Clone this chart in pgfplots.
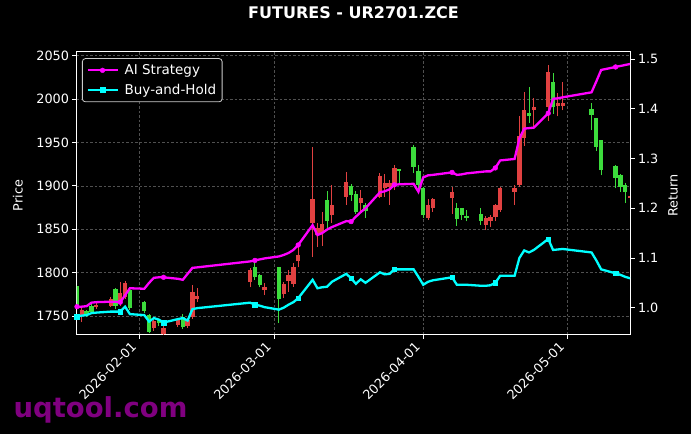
\documentclass[border=0pt]{standalone}
\usepackage{fontspec}
\setmainfont{DejaVu Sans}
\usepackage{pgfplots}
\usepackage{pgfplotstable}
\pgfplotsset{compat=1.18}
\usetikzlibrary{backgrounds}
\definecolor{cgreen}{RGB}{60,220,60}
\definecolor{cred}{RGB}{225,65,65}
\definecolor{wm}{RGB}{128,0,128}
\definecolor{gridc}{RGB}{80,80,80}
\definecolor{cmag}{RGB}{255,0,255}
\definecolor{ccyan}{RGB}{0,255,255}

\pgfplotstableread{
d o h l c
18 1760 1786 1758 1785
20 1751 1757 1749 1756
21 1755 1764 1752 1761
26 1762 1782 1758 1781
29 1759 1781 1757 1780
32 1756 1767 1754 1766
33 1732 1752 1730 1751
35 1742 1747 1739 1745
40 1737 1752 1735 1749
55 1795 1812 1792 1806
56 1786 1799 1783 1797
60 1770 1806 1742 1806
70 1859 1894 1852 1884
75 1889 1902 1883 1900
76 1870 1894 1868 1891
78 1871 1880 1863 1878
85 1917 1920 1903 1919
88 1922 1947 1915 1945
89 1901 1924 1893 1917
90 1866 1899 1863 1897
97 1862 1880 1854 1874
98 1866 1875 1861 1874
99 1863 1872 1859 1865
102 1860 1874 1855 1868
112 1981 2014 1972 1984
117 1991 2030 1983 2020
125 1982 1995 1964 1988
126 1945 1978 1940 1978
127 1918 1953 1912 1953
130 1909 1924 1897 1923
131 1899 1914 1893 1912
132 1893 1903 1880 1901
}\greentab

\pgfplotstableread{
d o h l c
19 1757 1760 1743 1751
22 1763 1765 1758 1760
25 1770 1772 1760 1762
27 1776 1789 1762 1765
28 1788 1790 1770 1772
34 1744 1746 1733 1736
36 1736 1738 1727 1729
39 1746 1748 1737 1740
41 1746 1748 1736 1738
42 1778 1786 1747 1749
43 1773 1782 1766 1770
54 1803 1805 1783 1789
57 1783 1788 1774 1780
61 1787 1789 1771 1775
62 1797 1803 1778 1790
63 1807 1811 1784 1787
64 1820 1830 1806 1813
67 1885 1945 1818 1857
68 1851 1857 1830 1843
69 1856 1870 1831 1846
71 1878 1901 1857 1866
74 1904 1916 1878 1887
77 1886 1895 1870 1880
81 1911 1915 1886 1887
82 1903 1914 1887 1897
83 1903 1907 1878 1899
84 1921 1924 1895 1901
91 1878 1885 1861 1863
92 1885 1886 1870 1874
96 1893 1899 1868 1886
103 1863 1865 1849 1855
104 1864 1867 1853 1859
105 1878 1879 1859 1864
106 1897 1899 1870 1872
109 1897 1901 1878 1893
110 1958 1980 1899 1901
111 1987 2008 1946 1955
113 1991 2001 1965 1987
116 2031 2039 1975 1991
118 1995 2007 1980 1992
119 1995 2020 1987 1992
133 1888 1890 1884 1886
}\redtab

\pgfplotstableread{
d ai bh
18 1.002 0.982
19 1.002 0.984
20 1.003 0.985
21 1.010 0.989
22 1.011 0.990
25 1.012 0.992
26 1.012 0.992
27 1.011 0.992
28 1.025 1.002
29 1.039 0.987
32 1.038 0.985
33 1.050 0.972
34 1.060 0.979
35 1.061 0.976
36 1.061 0.970
39 1.058 0.977
40 1.056 0.979
41 1.068 0.974
42 1.080 0.997
43 1.081 0.999
54 1.093 1.010
55 1.095 1.006
56 1.097 1.004
57 1.099 1.001
60 1.103 0.996
61 1.106 1.000
62 1.110 1.006
63 1.116 1.011
64 1.126 1.019
67 1.166 1.056
68 1.146 1.039
69 1.150 1.041
70 1.157 1.042
71 1.162 1.052
74 1.174 1.068
75 1.173 1.059
76 1.183 1.048
77 1.192 1.057
78 1.200 1.050
81 1.232 1.071
82 1.234 1.067
83 1.238 1.068
84 1.247 1.077
85 1.248 1.077
88 1.249 1.077
89 1.233 1.062
90 1.262 1.046
91 1.266 1.052
92 1.267 1.055
96 1.272 1.061
97 1.267 1.046
98 1.268 1.046
99 1.270 1.046
102 1.273 1.044
103 1.274 1.044
104 1.274 1.045
105 1.281 1.050
106 1.296 1.064
109 1.299 1.064
110 1.340 1.100
111 1.360 1.115
112 1.361 1.111
113 1.362 1.116
116 1.391 1.138
117 1.420 1.116
118 1.421 1.117
119 1.423 1.118
125 1.433 1.111
126 1.455 1.095
127 1.478 1.077
130 1.484 1.069
131 1.486 1.066
132 1.488 1.062
133 1.490 1.059
}\linetab

\begin{document}
\begin{tikzpicture}
\pgfplotsset{
  base/.style={
    scale only axis, width=553bp, height=282.3bp,
    xmin=18, xmax=133,
    axis line style={white, line width=1bp},
    tick style={white, line width=0.8bp},
    major tick length=4.5bp, tick align=outside,
    ticklabel style={text=white, font=\fontsize{12.8bp}{15bp}\selectfont},
    label style={text=white, font=\fontsize{12.8bp}{15bp}\selectfont},
    /pgf/number format/assume math mode=true,
    /pgf/number format/1000 sep={},
  },
}
\begin{axis}[base, name=main,
  ymin=1729.3, ymax=2054.6,
  ytick={1750,1800,1850,1900,1950,2000,2050},
  xtick={31,59,90,120},
  xticklabels={2026-02-01,2026-03-01,2026-04-01,2026-05-01},
  xticklabel style={xshift=-9bp, yshift=2bp, rotate=45, anchor=north east},
  xtick pos=left, ytick pos=left,
  grid=major,
  major grid style={gridc, dash pattern=on 2.5bp off 2bp, line width=0.5bp},
  ylabel={Price},
  ylabel style={at={(axis description cs:-0.107,0.49)}, anchor=center},
  title={FUTURES - UR2701.ZCE},
  title style={at={(axis description cs:0.5,1.098)}, anchor=base, text=white, font=\bfseries\fontsize{16bp}{19bp}\selectfont},
]
% wicks
\addplot[forget plot, draw=none, mark=none, error bars/.cd, y dir=plus, y explicit, error mark=none,
  error bar style={draw=cgreen, line width=1bp}]
  table[x=d, y=l, y error plus expr={\thisrow{h}-\thisrow{l}}] {\greentab};
\addplot[forget plot, draw=none, mark=none, error bars/.cd, y dir=plus, y explicit, error mark=none,
  error bar style={draw=cred, line width=1bp}]
  table[x=d, y=l, y error plus expr={\thisrow{h}-\thisrow{l}}] {\redtab};
% bodies
\addplot[forget plot, draw=none, mark=none, error bars/.cd, y dir=plus, y explicit, error mark=none,
  error bar style={draw=cgreen, line width=4.3bp}]
  table[x=d, y expr={min(\thisrow{o},\thisrow{c})}, y error plus expr={abs(\thisrow{c}-\thisrow{o})}] {\greentab};
\addplot[forget plot, draw=none, mark=none, error bars/.cd, y dir=plus, y explicit, error mark=none,
  error bar style={draw=cred, line width=4.3bp}]
  table[x=d, y expr={min(\thisrow{o},\thisrow{c})}, y error plus expr={abs(\thisrow{c}-\thisrow{o})}] {\redtab};
\end{axis}

\begin{axis}[base,
  ymin=0.947, ymax=1.5147,
  axis y line*=right, axis x line=none,
  ytick={1.0,1.1,1.2,1.3,1.4,1.5},
  yticklabel style={/pgf/number format/.cd, fixed, fixed zerofill, precision=1},
  ylabel={Return},
  ylabel style={at={(axis description cs:1.078,0.49)}, anchor=center, rotate=0},
  legend cell align=left,
  legend style={at={(axis description cs:0.009,0.977)}, anchor=north west,
    fill=black, draw=white!80!black, text=white, rounded corners=3bp,
    font=\fontsize{13.5bp}{16bp}\selectfont, inner xsep=4bp, inner ysep=4bp,
    row sep=4bp, column sep=4bp, line width=0.8bp},
  legend image code/.code={\draw[#1, mark repeat=2, mark phase=2] plot coordinates {(0bp,0bp) (15bp,0bp) (30bp,0bp)};},
]
\addplot[cmag, line width=2.3bp, mark=*, mark size=2.4bp, mark repeat=7, mark phase=1, mark options={solid, line width=0.4bp}]
  table[x=d, y=ai] {\linetab};
\addlegendentry{AI Strategy}
\addplot[ccyan, line width=2.3bp, mark=square*, mark size=2.3bp, mark repeat=7, mark phase=1, mark options={solid, line width=0.4bp}]
  table[x=d, y=bh] {\linetab};
\addlegendentry{Buy-and-Hold}
\end{axis}

\node[anchor=base west, text=wm, font=\bfseries\fontsize{27.5bp}{30bp}\selectfont]
  at ([xshift=-67bp, yshift=-83bp]main.south west) {uqtool.com};

\pgfresetboundingbox
\path[use as bounding box] ([xshift=-77bp,yshift=-100bp]main.south west) rectangle ([xshift=61bp,yshift=51.7bp]main.north east);
\begin{pgfonlayer}{background}
\fill[black] ([xshift=-77bp,yshift=-100bp]main.south west) rectangle ([xshift=61bp,yshift=51.7bp]main.north east);
\end{pgfonlayer}
\end{tikzpicture}
\end{document}
